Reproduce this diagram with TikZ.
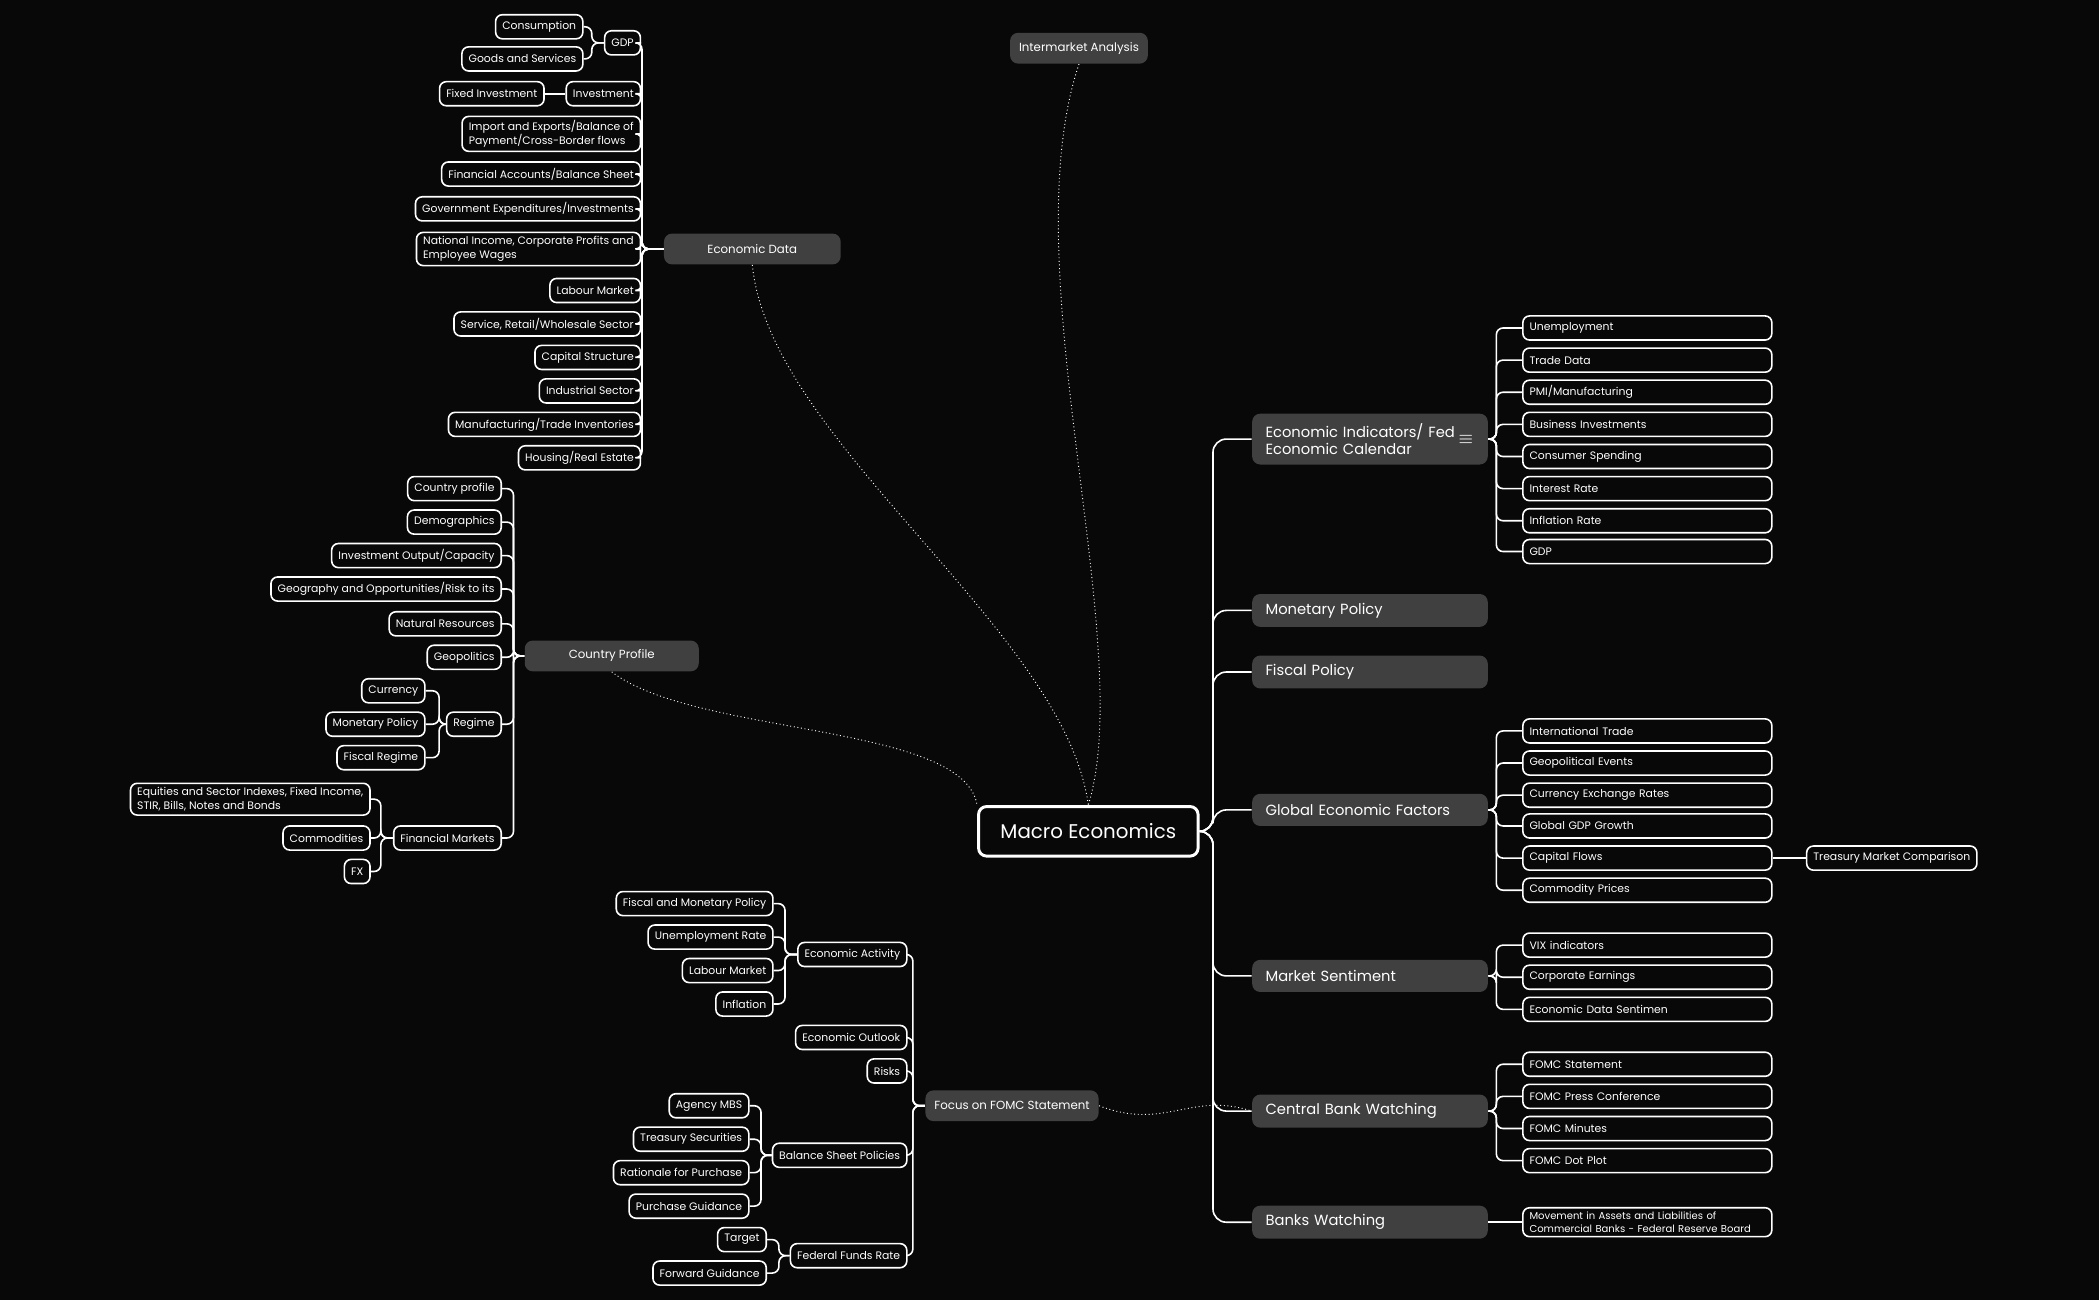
\documentclass[tikz,border=0pt]{standalone}
\usepackage{fontspec}
\setmainfont{Poppins}
\begin{document}
\begin{tikzpicture}[x=0.5pt,y=-0.5pt,
  sbox/.style={draw=white,line width=0.6pt,rounded corners=2.5pt,fill=black!97,text=white,font=\fontsize{4.05}{5}\selectfont,inner xsep=2.5pt,inner ysep=1.6pt,minimum height=9pt,align=left},
  rbox/.style={sbox,anchor=west,minimum width=93pt,text width=88pt},
  gbox/.style={fill=black!75,rounded corners=3pt,text=white,font=\fontsize{4.4}{5.5}\selectfont,minimum height=11.5pt},
  mbox/.style={fill=black!75,rounded corners=3pt,text=white,font=\fontsize{5.5}{6.4}\selectfont,anchor=west,minimum width=88pt,text width=78pt,align=left,minimum height=12pt,inner xsep=5pt},
  lk/.style={draw=white,line width=0.6pt,rounded corners=2.5pt},
  dl/.style={draw=white!60,line width=0.35pt,densely dotted}]
\fill[black!97] (0,0) rectangle (1568,971);
\useasboundingbox (0,0) rectangle (1568,971);
% ---------- Economic Data
\node[gbox,minimum width=66pt] (ed) at (562,186) {Economic Data};
\node[sbox,anchor=east] (gdp) at (479,32) {GDP};
\node[sbox,anchor=east] (cons) at (436,20) {Consumption};
\node[sbox,anchor=east] (gas) at (436,44) {Goods and Services};
\node[sbox,anchor=east] (inv) at (479,70) {Investment};
\node[sbox,anchor=east] (finv) at (407,70) {Fixed Investment};
\node[sbox,anchor=east] (imp) at (479,100) {Import and Exports/Balance of\\Payment/Cross-Border flows};
\node[sbox,anchor=east] (fin) at (479,130) {Financial Accounts/Balance Sheet};
\node[sbox,anchor=east] (gov) at (479,156) {Government Expenditures/Investments};
\node[sbox,anchor=east] (nat) at (479,186) {National Income, Corporate Profits and\\Employee Wages};
\node[sbox,anchor=east] (lab) at (479,217) {Labour Market};
\node[sbox,anchor=east] (ser) at (479,242) {Service, Retail/Wholesale Sector};
\node[sbox,anchor=east] (cap) at (479,267) {Capital Structure};
\node[sbox,anchor=east] (ind) at (479,292) {Industrial Sector};
\node[sbox,anchor=east] (man) at (479,317) {Manufacturing/Trade Inventories};
\node[sbox,anchor=east] (hou) at (479,342) {Housing/Real Estate};
\foreach \c in {gdp,inv,imp,fin,gov,nat,lab,ser,cap,ind,man,hou}
  \draw[lk] (ed.west) -- ++(-16,0) |- (\c.east);
\foreach \c in {cons,gas} \draw[lk] (gdp.west) -- ++(-9,0) |- (\c.east);
\draw[lk] (inv.west) -- (finv.east);
% ---------- Country Profile
\node[gbox,minimum width=65pt] (cp) at (457,490) {Country Profile};
\node[sbox,anchor=east] (cpr) at (375,365) {Country profile};
\node[sbox,anchor=east] (dem) at (375,390) {Demographics};
\node[sbox,anchor=east] (ioc) at (375,415) {Investment Output/Capacity};
\node[sbox,anchor=east] (geo) at (375,440) {Geography and Opportunities/Risk to its};
\node[sbox,anchor=east] (nr) at (375,466) {Natural Resources};
\node[sbox,anchor=east] (gp) at (375,491) {Geopolitics};
\node[sbox,anchor=east] (reg) at (375,541) {Regime};
\node[sbox,anchor=east] (cur) at (318,516) {Currency};
\node[sbox,anchor=east] (mp) at (318,541) {Monetary Policy};
\node[sbox,anchor=east] (fr) at (318,566) {Fiscal Regime};
\node[sbox,anchor=east] (fm) at (375,626) {Financial Markets};
\node[sbox,anchor=east] (eq) at (277,597) {Equities and Sector Indexes, Fixed Income,\\STIR, Bills, Notes and Bonds};
\node[sbox,anchor=east] (com) at (277,626) {Commodities};
\node[sbox,anchor=east] (fx) at (277,651) {FX};
\foreach \c in {cpr,dem,ioc,geo,nr,gp,reg,fm}
  \draw[lk] (cp.west) -- ++(-8,0) |- (\c.east);
\foreach \c in {cur,mp,fr} \draw[lk] (reg.west) -- ++(-5,0) |- (\c.east);
\foreach \c in {eq,com,fx} \draw[lk] (fm.west) -- ++(-9,0) |- (\c.east);
% ---------- FOMC
\node[gbox,minimum width=61pt] (fo) at (756,826) {Focus on FOMC Statement};
\node[sbox,anchor=east] (ea) at (678,713) {Economic Activity};
\node[sbox,anchor=east] (fmp) at (578,675) {Fiscal and Monetary Policy};
\node[sbox,anchor=east] (ur) at (578,700) {Unemployment Rate};
\node[sbox,anchor=east] (lm) at (578,725) {Labour Market};
\node[sbox,anchor=east] (inf) at (578,750) {Inflation};
\node[sbox,anchor=east] (eo) at (678,775) {Economic Outlook};
\node[sbox,anchor=east] (ri) at (678,800) {Risks};
\node[sbox,anchor=east] (bsp) at (678,863) {Balance Sheet Policies};
\node[sbox,anchor=east] (mbs) at (560,826) {Agency MBS};
\node[sbox,anchor=east] (ts) at (560,851) {Treasury Securities};
\node[sbox,anchor=east] (rp) at (560,876) {Rationale for Purchase};
\node[sbox,anchor=east] (pg) at (560,901) {Purchase Guidance};
\node[sbox,anchor=east] (ffr) at (678,938) {Federal Funds Rate};
\node[sbox,anchor=east] (tg) at (573,926) {Target};
\node[sbox,anchor=east] (fg) at (573,951) {Forward Guidance};
\foreach \c in {ea,eo,ri,bsp,ffr} \draw[lk] (fo.west) -- ++(-9,0) |- (\c.east);
\foreach \c in {fmp,ur,lm,inf} \draw[lk] (ea.west) -- ++(-9,0) |- (\c.east);
\foreach \c in {mbs,ts,rp,pg} \draw[lk] (bsp.west) -- ++(-8,0) |- (\c.east);
\foreach \c in {tg,fg} \draw[lk] (ffr.west) -- ++(-8,0) |- (\c.east);
% ---------- centre
\node[draw=white,line width=1.1pt,rounded corners=3pt,fill=black!97,text=white,font=\fontsize{7.4}{9}\selectfont,minimum width=82pt,minimum height=18.5pt] (me) at (813,621) {Macro Economics};
\node[gbox,minimum width=48pt] (ia) at (806,36) {Intermarket Analysis};
% ---------- right main branches
\node[mbox,minimum height=19pt] (ei) at (935,328) {Economic Indicators/ Fed\\Economic Calendar};
\node[text=white,font=\fontsize{6}{6}\selectfont] (eic) at (1095,328) {\(\equiv\)};
\node[mbox] (mop) at (935,456) {Monetary Policy};
\node[mbox] (fp) at (935,502) {Fiscal Policy};
\node[mbox] (gef) at (935,605) {Global Economic Factors};
\node[mbox] (ms) at (935,729) {Market Sentiment};
\node[mbox] (cbw) at (935,830) {Central Bank Watching};
\node[mbox] (bw) at (935,913) {Banks Watching};
\foreach \c in {ei,mop,fp,gef,ms,cbw,bw}
  \draw[lk,rounded corners=5pt] (me.east) -- ++(10,0) |- (\c.west);
% right leaves
\foreach \n/\y/\t in {u1/245/Unemployment,u2/269/Trade Data,u3/293/{PMI/Manufacturing},u4/317/Business Investments,u5/341/Consumer Spending,u6/365/Interest Rate,u7/389/Inflation Rate,u8/412/GDP}{
  \node[rbox] (\n) at (1137,\y) {\t};
  \draw[lk] (ei.east) -- ++(6,0) |- (\n.west);}
\foreach \n/\y/\t in {g1/546/International Trade,g2/570/Geopolitical Events,g3/594/Currency Exchange Rates,g4/617/Global GDP Growth,g5/641/Capital Flows,g6/665/Commodity Prices}{
  \node[rbox] (\n) at (1137,\y) {\t};
  \draw[lk] (gef.east) -- ++(6,0) |- (\n.west);}
\node[sbox,anchor=west] (tmc) at (1349,641) {Treasury Market Comparison};
\draw[lk] (g5.east) -- (tmc.west);
\foreach \n/\y/\t in {s1/706/VIX indicators,s2/730/Corporate Earnings,s3/754/Economic Data Sentimen}{
  \node[rbox] (\n) at (1137,\y) {\t};
  \draw[lk] (ms.east) -- ++(6,0) |- (\n.west);}
\foreach \n/\y/\t in {c1/795/FOMC Statement,c2/819/FOMC Press Conference,c3/843/FOMC Minutes,c4/867/FOMC Dot Plot}{
  \node[rbox] (\n) at (1137,\y) {\t};
  \draw[lk] (cbw.east) -- ++(6,0) |- (\n.west);}
\node[rbox,font=\fontsize{3.75}{4.7}\selectfont] (b1) at (1137,913) {Movement in Assets and Liabilities of\\Commercial Banks - Federal Reserve Board};
\draw[lk] (bw.east) -- (b1.west);
% ---------- dotted relations
\draw[dl] (ed.south) .. controls (575,330) and (795,470) .. (me.north);
\draw[dl] (ia.south) .. controls (755,200) and (850,480) .. (me.north);
\draw[dl] (cp.south) .. controls (520,550) and (720,540) .. (me.north west);
\draw[dl] (fo.east) .. controls (870,845) and (890,815) .. (cbw.west);
\end{tikzpicture}
\end{document}
